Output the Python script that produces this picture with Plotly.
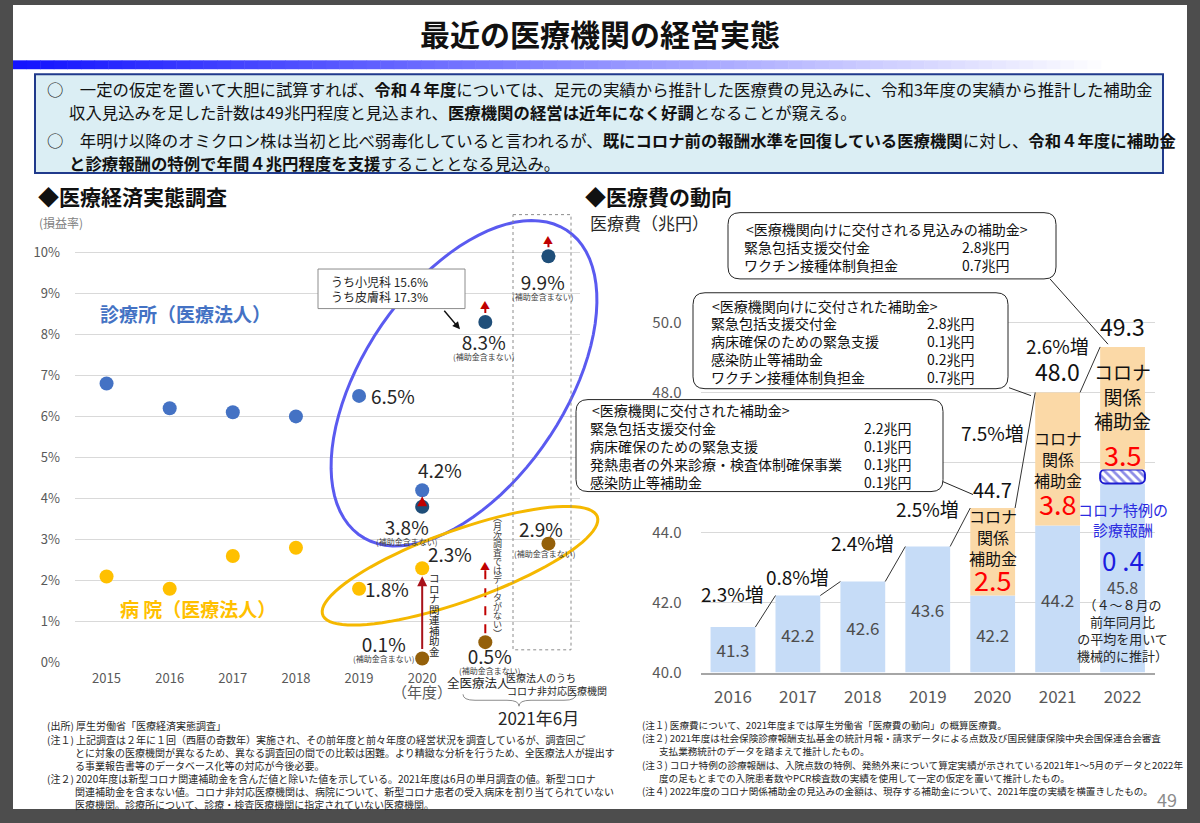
import numpy as np
import plotly.graph_objects as go

### Canvas helpers (the slide is drawn on a 1200 x 823 page)
W, H = 1200, 823


def px(x):
    return x / W


def py(y):
    return 1 - y / H


JP = 'Noto Sans CJK JP'
NARROW = 'Liberation Sans Narrow, Noto Sans CJK JP'

### Data: 医療経済実態調査 (損益率 %)
survey_cats = ['2015', '2016', '2017', '2018', '2019', '2020', '全医療法人', 'コロナ非対応医療機関']
clinic_years = ['2015', '2016', '2017', '2018', '2019', '2020']
clinic_rate = [6.8, 6.2, 6.1, 6.0, 6.5, 4.2]
hospital_rate = [2.1, 1.8, 2.6, 2.8, 1.8, 2.3]
excl_cats = ['2020', '全医療法人', 'コロナ非対応医療機関']
clinic_excl = [3.8, 8.3, 9.9]
hospital_excl = [0.1, 0.5, 2.9]

### Data: 医療費の動向 (兆円)
cost_years = ['2016', '2017', '2018', '2019', '2020', '2021', '2022']
cost_base = [41.3, 42.2, 42.6, 43.6, 42.2, 44.2, 45.4]
special_fee = [0, 0, 0, 0, 0, 0, 0.4]
covid_subsidy = [0, 0, 0, 0, 2.5, 3.8, 3.5]
growth_text = ['2.3%増', '0.8%増', '2.4%増', '2.5%増', '7.5%増', '2.6%増']

expected_items = ['緊急包括支援交付金', 'ワクチン接種体制負担金']
expected_amounts = ['2.8兆円', '0.7兆円']
paid2021_items = ['緊急包括支援交付金', '病床確保のための緊急支援', '感染防止等補助金', 'ワクチン接種体制負担金']
paid2021_amounts = ['2.8兆円', '0.1兆円', '0.2兆円', '0.7兆円']
paid2020_items = ['緊急包括支援交付金', '病床確保のための緊急支援', '発熱患者の外来診療・検査体制確保事業', '感染防止等補助金']
paid2020_amounts = ['2.2兆円', '0.1兆円', '0.1兆円', '0.1兆円']

notes_left = [
    ('(出所) 厚生労働省「医療経済実態調査」', 0),
    ('(注１) 上記調査は２年に１回（西暦の奇数年）実施され、その前年度と前々年度の経営状況を調査しているが、調査回ご', 0),
    ('とに対象の医療機関が異なるため、異なる調査回の間での比較は困難。より精緻な分析を行うため、全医療法人が提出す', 1),
    ('る事業報告書等のデータベース化等の対応が今後必要。', 1),
    ('(注２) 2020年度は新型コロナ関連補助金を含んだ値と除いた値を示している。2021年度は6月の単月調査の値。新型コロナ', 0),
    ('関連補助金を含まない値。コロナ非対応医療機関は、病院について、新型コロナ患者の受入病床を割り当てられていない', 1),
    ('医療機関。診療所について、診療・検査医療機関に指定されていない医療機関。', 1),
]
notes_right = [
    ('(注１) 医療費について、2021年度までは厚生労働省「医療費の動向」の概算医療費。', 0),
    ('(注２) 2021年度は社会保険診療報酬支払基金の統計月報・請求データによる点数及び国民健康保険中央会国保連合会審査', 0),
    ('支払業務統計のデータを踏まえて推計したもの。', 1),
    ('(注３) コロナ特例の診療報酬は、入院点数の特例、発熱外来について算定実績が示されている2021年1～5月のデータと2022年', 0),
    ('度の足もとまでの入院患者数やPCR検査数の実績を使用して一定の仮定を置いて推計したもの。', 1),
    ('(注４) 2022年度のコロナ関係補助金の見込みの金額は、現存する補助金について、2021年度の実績を横置きしたもの。', 0),
]

fig = go.Figure()
shapes = []


def text(x, y, s, size, color='#262626', anchor='left', family=JP, **kw):
    fig.add_annotation(x=px(x), y=py(y), xref='paper', yref='paper', text=s, showarrow=False,
                       xanchor=anchor, yanchor='middle', font=dict(size=size, color=color, family=family), **kw)


def rounded_rect(x0, y0, x1, y1, r=10):
    rx, ry = r / W, r / H
    a, b, c, d = px(x0), py(y0), px(x1), py(y1)
    return (f'M{a + rx},{b} L{c - rx},{b} Q{c},{b} {c},{b - ry} L{c},{d + ry} Q{c},{d} {c - rx},{d} '
            f'L{a + rx},{d} Q{a},{d} {a},{d + ry} L{a},{b - ry} Q{a},{b} {a + rx},{b} Z')


def ellipse_path(cx, cy, a, b, deg, n=90):
    t = np.linspace(0, 2 * np.pi, n)
    th = np.radians(deg)
    xs = cx + a * np.cos(t) * np.cos(th) - b * np.sin(t) * np.sin(th)
    ys = cy - (a * np.cos(t) * np.sin(th) + b * np.sin(t) * np.cos(th))
    return 'M' + ' L'.join(f'{px(x):.5f},{py(y):.5f}' for x, y in zip(xs, ys)) + ' Z'


def vertical_text(s, x, y_top, step, size, color):
    for k, ch in enumerate(s):
        text(x, y_top + step * k, ch, size, color, anchor='center')


### Slide background, title, banner
shapes.append(dict(type='rect', xref='paper', yref='paper', x0=px(13), x1=px(1187), y0=py(5), y1=py(818),
                   fillcolor='white', line=dict(width=0), layer='below'))
n_grad = 80
for k in range(n_grad):
    f = k / n_grad
    col = f'rgb({int(20 + 235 * f)},{int(20 + 235 * f)},255)'
    shapes.append(dict(type='rect', xref='paper', yref='paper', x0=px(13 + k * 13.6), x1=px(13 + (k + 1) * 13.6 + 0.5),
                       y0=py(61), y1=py(70), fillcolor=col, line=dict(width=0), layer='below'))

text(600, 33, '<b>最近の医療機関の経営実態</b>', 30, '#111111', anchor='center')
shapes.append(dict(type='rect', xref='paper', yref='paper', x0=px(35), x1=px(1163), y0=py(75), y1=py(175),
                   fillcolor='#dbeef4', line=dict(color='#203a8c', width=2), layer='below'))
text(45, 90, '○　一定の仮定を置いて大胆に試算すれば、<b>令和４年度</b>については、足元の実績から推計した医療費の見込みに、令和3年度の実績から推計した補助金', 16.4, '#111111')
text(67, 113, '収入見込みを足した計数は49兆円程度と見込まれ、<b>医療機関の経営は近年になく好調</b>となることが窺える。', 16.4, '#111111')
text(45, 142, '○　年明け以降のオミクロン株は当初と比べ弱毒化していると言われるが、<b>既にコロナ前の報酬水準を回復している医療機関</b>に対し、<b>令和４年度に補助金</b>', 16.4, '#111111')
text(67, 165, '<b>と診療報酬の特例で年間４兆円程度を支援</b>することとなる見込み。', 16.4, '#111111')

text(36, 198, '<b>◆医療経済実態調査</b>', 21, '#111111')
text(583, 198, '<b>◆医療費の動向</b>', 21, '#111111')

### Left chart: 損益率
pos = {c: i for i, c in enumerate(survey_cats)}
clinic_x = [pos[c] for c in clinic_years]
excl_x = [pos[c] for c in excl_cats]

fig.add_trace(go.Scatter(x=clinic_x, y=clinic_rate, mode='markers', marker=dict(size=14, color='#4472c4'),
                         cliponaxis=False, xaxis='x', yaxis='y'))
fig.add_trace(go.Scatter(x=clinic_x, y=hospital_rate, mode='markers', marker=dict(size=14, color='#ffc000'),
                         cliponaxis=False, xaxis='x', yaxis='y'))
fig.add_trace(go.Scatter(x=excl_x, y=clinic_excl, mode='markers', marker=dict(size=14, color='#1f4e79'),
                         cliponaxis=False, xaxis='x', yaxis='y'))
fig.add_trace(go.Scatter(x=excl_x, y=hospital_excl, mode='markers', marker=dict(size=14, color='#94600a'),
                         cliponaxis=False, xaxis='x', yaxis='y'))


def point_label(x, y, s, dx, dy, size=19):
    fig.add_annotation(x=x, y=y, xref='x', yref='y', text=s, showarrow=False, xshift=dx, yshift=dy,
                       font=dict(size=size, color='#262626', family=NARROW))


def excl_label(x, y, dx, dy):
    # value with the small "(補助金含まない)" note stacked right under it
    fig.add_annotation(x=x, y=y, xref='x', yref='y', showarrow=False, xshift=dx, yshift=dy, yanchor='top',
                       text=f"<span style='font-size:19px;color:#262626'>{y}%</span><br>(補助金含まない)",
                       font=dict(size=8, color='#404040', family=JP))


point_label(clinic_x[4], clinic_rate[4], f'{clinic_rate[4]}%', 34, 0)
point_label(clinic_x[5], clinic_rate[5], f'{clinic_rate[5]}%', 18, 21)
point_label(clinic_x[5], hospital_rate[5], f'{hospital_rate[5]}%', 28, 15)
point_label(clinic_x[4], hospital_rate[4], f'{hospital_rate[4]}%', 28, 0)
excl_label(excl_x[0], clinic_excl[0], -16, -4)
excl_label(excl_x[1], clinic_excl[1], -2, -4)
excl_label(excl_x[2], clinic_excl[2], -6, -10)
excl_label(excl_x[0], hospital_excl[0], -39, 31)
excl_label(excl_x[1], hospital_excl[1], 4, 2)
point_label(excl_x[2], hospital_excl[2], f'{hospital_excl[2]}%', -7, 15)
fig.add_annotation(x=excl_x[2], y=hospital_excl[2], xref='x', yref='y', text='(補助金含まない)', showarrow=False,
                   xshift=-4, yshift=-10, font=dict(size=8, color='#404040'))

# subsidy arrows
fig.add_annotation(x=clinic_x[5], y=clinic_rate[5], ax=excl_x[0], ay=clinic_excl[0], xref='x', yref='y',
                   axref='x', ayref='y', text='', showarrow=True, arrowhead=2, arrowsize=1, arrowwidth=2,
                   arrowcolor='#c00000', standoff=6, startstandoff=4)
fig.add_annotation(x=clinic_x[5], y=hospital_rate[5], ax=excl_x[0], ay=hospital_excl[0], xref='x', yref='y',
                   axref='x', ayref='y', text='', showarrow=True, arrowhead=2, arrowsize=1, arrowwidth=2,
                   arrowcolor='#a8121a', standoff=8, startstandoff=8)
for xx, yy, length in [(excl_x[1], clinic_excl[1], 22), (excl_x[2], clinic_excl[2], 22), (excl_x[1], hospital_excl[1], 82)]:
    shapes.append(dict(type='line', xref='x', yref='y', x0=xx, x1=xx, ysizemode='pixel', yanchor=yy,
                       y0=9, y1=length - 6, line=dict(color='#c00000', width=2, dash='dash')))
    fig.add_annotation(x=xx, y=yy, xref='x', yref='y', text='▲', showarrow=False, yshift=length - 5,
                       font=dict(size=10, color='#c00000'))

vertical_text('コロナ関連補助金', 434, 584, 10.6, 10.5, '#262626')
vertical_text('︵月次調査ではデ︱タがない︶', 497, 523, 9, 9, '#404040')

# ellipses and the dotted frame
shapes.append(dict(type='path', xref='paper', yref='paper', path=ellipse_path(464, 387.5, 185.7, 101.2, 56.4),
                   line=dict(color='#5a5af0', width=3)))
shapes.append(dict(type='path', xref='paper', yref='paper', path=ellipse_path(460, 572, 146, 35.8, 19.9),
                   line=dict(color='#f5b800', width=3)))
shapes.append(dict(type='rect', xref='paper', yref='paper', x0=px(513), x1=px(571), y0=py(217), y1=py(657),
                   line=dict(color='#8c8c8c', width=1, dash='dot')))

# callout for 8.3%
shapes.append(dict(type='rect', xref='paper', yref='paper', x0=px(318), x1=px(465), y0=py(272), y1=py(312),
                   fillcolor='white', line=dict(color='#8c8c8c', width=1)))
text(329, 285, 'うち小児科 15.6%', 12, '#262626')
text(329, 300, 'うち皮膚科 17.3%', 12, '#262626')
fig.add_annotation(x=px(460), y=py(333), xref='paper', yref='paper', ax=-17, ay=-20, text='', showarrow=True,
                   arrowhead=2, arrowwidth=1.5, arrowsize=1, arrowcolor='#111111')

text(185, 317, '<b>診療所（医療法人）</b>', 19, '#4472c4', anchor='center')
text(198, 615, '<b>病 院（医療法人）</b>', 19, '#ffc000', anchor='center')
text(61, 225, '(損益率)', 12, '#7f7f7f', anchor='center')
text(422, 699, '（年度）', 15, '#595959', anchor='center')
text(478, 690, '全医療法人', 12.5, '#262626', anchor='center')
text(541, 685, '医療法人のうち', 10, '#262626', anchor='center')
text(557, 698, 'コロナ非対応医療機関', 10, '#262626', anchor='center')
shapes.append(dict(type='path', xref='paper', yref='paper', line=dict(color='#8c8c8c', width=1),
                   path=(f'M{px(463)},{py(702)} Q{px(463)},{py(708)} {px(475)},{py(708)} L{px(507)},{py(708)} '
                         f'Q{px(519)},{py(708)} {px(519)},{py(714)} Q{px(519)},{py(708)} {px(531)},{py(708)} '
                         f'L{px(564)},{py(708)} Q{px(576)},{py(708)} {px(576)},{py(702)}')))
text(538, 725, '2021年6月', 17, '#262626', anchor='center')

### Right chart: 医療費
bar_floor = 40.0
bx = list(range(len(cost_years)))
base_top = [b + s for b, s in zip(cost_base, special_fee)]
totals = [t + c for t, c in zip(base_top, covid_subsidy)]
bw = 0.69

fig.add_trace(go.Bar(x=bx, y=[v - bar_floor for v in cost_base], base=bar_floor, width=bw,
                     marker=dict(color='#c6dcf7', line=dict(width=0)),
                     text=[f'{v:.1f}' for v in cost_base[:-1]] + [''], textposition='inside',
                     insidetextanchor='middle', textangle=0, constraintext='none',
                     textfont=dict(size=17, color='#4d4d4d'), xaxis='x2', yaxis='y2'))
fig.add_trace(go.Bar(x=bx[-1:], y=special_fee[-1:], base=cost_base[-1:], width=bw,
                     marker=dict(color='white', cornerradius=5, line=dict(color='#1c1cd0', width=2),
                                 pattern=dict(shape='\\', fgcolor='#1c1cd0', bgcolor='white', size=6, solidity=0.45)),
                     xaxis='x2', yaxis='y2'))
sub_idx = [i for i, v in enumerate(covid_subsidy) if v > 0]
fig.add_trace(go.Bar(x=[bx[i] for i in sub_idx], y=[covid_subsidy[i] for i in sub_idx],
                     base=[base_top[i] for i in sub_idx], width=bw,
                     marker=dict(color='#fbd9a7', line=dict(width=0)), xaxis='x2', yaxis='y2'))

# connectors between bar tops
for i in range(len(bx) - 1):
    fig.add_trace(go.Scatter(x=[bx[i] + bw / 2, bx[i + 1] - bw / 2], y=[totals[i], totals[i + 1]], mode='lines',
                             line=dict(color='#333333', width=1), xaxis='x2', yaxis='y2'))

growth_shift = [34, 19, 39, 38, 76, 47]
for i, g in enumerate(growth_text):
    fig.add_annotation(x=bx[i], y=totals[i], xref='x2', yref='y2', text=g, showarrow=False, yshift=growth_shift[i],
                       font=dict(size=19, color='#111111'))
for i, sz in zip(sub_idx, [20, 23, 23]):
    fig.add_annotation(x=bx[i], y=totals[i], xref='x2', yref='y2', text=f'{totals[i]:.1f}', showarrow=False,
                       yanchor='bottom', yshift=2, font=dict(size=sz, color='#111111'))

sub_text_size = [16, 16, 19]
sub_text_shift = [15, 0, 12]
sub_num_shift = [-28, -45, -46]
for k, i in enumerate(sub_idx):
    mid = base_top[i] + covid_subsidy[i] / 2
    fig.add_annotation(x=bx[i], y=mid, xref='x2', yref='y2', text='コロナ<br>関係<br>補助金', showarrow=False,
                       yshift=sub_text_shift[k], font=dict(size=sub_text_size[k], color='#111111'))
    fig.add_annotation(x=bx[i], y=mid, xref='x2', yref='y2', text=f'{covid_subsidy[i]}', showarrow=False,
                       yshift=sub_num_shift[k], font=dict(size=27, color='#ff0000'))

last = bx[-1]
fig.add_annotation(x=last, y=cost_base[-1], xref='x2', yref='y2', text='コロナ特例の<br>診療報酬', showarrow=False,
                   yanchor='top', yshift=-14, font=dict(size=15, color='#2b2be0'))
fig.add_annotation(x=last, y=cost_base[-1], xref='x2', yref='y2', text=f'{special_fee[-1]:.1f}'.replace('.', ' .'),
                   showarrow=False, yanchor='top', yshift=-56, font=dict(size=26, color='#1c1ce0'))
fig.add_annotation(x=last, y=cost_base[-1], xref='x2', yref='y2', text=f'{base_top[-1]:.1f}', showarrow=False,
                   yanchor='top', yshift=-90, font=dict(size=16, color='#4d4d4d'))
fig.add_annotation(x=last, y=cost_base[-1], xref='x2', yref='y2',
                   text='（４～８月の<br>前年同月比<br>の平均を用いて<br>機械的に推計）', showarrow=False,
                   yanchor='top', yshift=-110, font=dict(size=13, color='#262626'))

text(588, 225, '医療費（兆円）', 17, '#262626')


def info_box(x0, y0, x1, y1, header, items, amounts, hx, ix, vx, y_rows, line_to):
    shapes.append(dict(type='path', xref='paper', yref='paper', path=rounded_rect(x0, y0, x1, y1, 12),
                       fillcolor='white', line=dict(color='#262626', width=1)))
    shapes.append(dict(type='line', xref='paper', yref='paper', x0=px(line_to[0]), y0=py(line_to[1]),
                       x1=px(line_to[2]), y1=py(line_to[3]), line=dict(color='#262626', width=1)))
    text(hx, y_rows[0], header, 14, '#111111')
    for k, (it, am) in enumerate(zip(items, amounts)):
        text(ix, y_rows[k + 1], it, 14, '#111111')
        text(vx, y_rows[k + 1], am, 14, '#111111')


info_box(728, 215, 1056, 282, '<医療機関向けに交付される見込みの補助金>', expected_items, expected_amounts,
         744, 742, 960, [232, 250, 268], (1050, 282, 1108, 348))
info_box(693, 296, 1008, 393, '<医療機関向けに交付された補助金>', paid2021_items, paid2021_amounts,
         710, 709, 925, [309, 327, 345, 363, 381], (1009, 392, 1031, 400))
info_box(576, 404, 943, 497, '<医療機関に交付された補助金>', paid2020_items, paid2020_amounts,
         590, 588, 862, [415, 433, 451, 469, 487], (943, 487, 973, 500))

### Footnotes
for k, (s, ind) in enumerate(notes_left):
    text(45 + 28 * ind, 734 + 13.3 * k, s, 10, '#262626')
for k, (s, ind) in enumerate(notes_right):
    text(640 + 17 * ind, 733 + 13.4 * k, s, 9.6, '#262626')
text(1167, 808, '49', 18, '#8c8c8c', anchor='center')

### Layout
fig.update_layout(
    width=W, height=H, margin=dict(l=0, r=0, t=0, b=0),
    paper_bgcolor='#4d4d4d', plot_bgcolor='rgba(0,0,0,0)',
    showlegend=False, barmode='overlay', font=dict(family=JP, color='#262626'),
    shapes=shapes,
    xaxis=dict(domain=[px(75), px(580)], range=[-0.5, 7.5], tickvals=clinic_x, ticktext=clinic_years,
               showgrid=False, zeroline=False, showline=False, ticks='', anchor='y',
               tickfont=dict(size=13, color='#595959'), ticklabelstandoff=6),
    yaxis=dict(domain=[py(670), py(670 - 41.5 * 11)], range=[0, 11], tickvals=list(range(11)),
               ticktext=[f'{v}%' for v in range(11)], gridcolor='#d9d9d9', zeroline=False, showline=False,
               ticks='', anchor='x', tickfont=dict(size=13, color='#595959'), ticklabelstandoff=14),
    xaxis2=dict(domain=[px(700.5), px(1155)], range=[-0.5, 6.5], tickvals=bx, ticktext=cost_years,
                showgrid=False, zeroline=False, showline=True, linecolor='#a6a6a6', linewidth=1.5, ticks='',
                anchor='y2', tickfont=dict(size=17, color='#595959'), ticklabelstandoff=8),
    # the 46.0 label sits under the callout box in the original, so it is left blank
    yaxis2=dict(domain=[py(680), py(680 - 35.4 * 11)], range=[40, 51], tickvals=[40, 42, 44, 46, 48, 50],
                ticktext=['40.0', '42.0', '44.0', '', '48.0', '50.0'], gridcolor='#d9d9d9', zeroline=False,
                showline=False, ticks='', anchor='x2', tickfont=dict(size=15, color='#595959'), ticklabelstandoff=18),
)

fig.write_html('out.html', config={'displayModeBar': False}, post_script="document.body.style.margin='0';")
